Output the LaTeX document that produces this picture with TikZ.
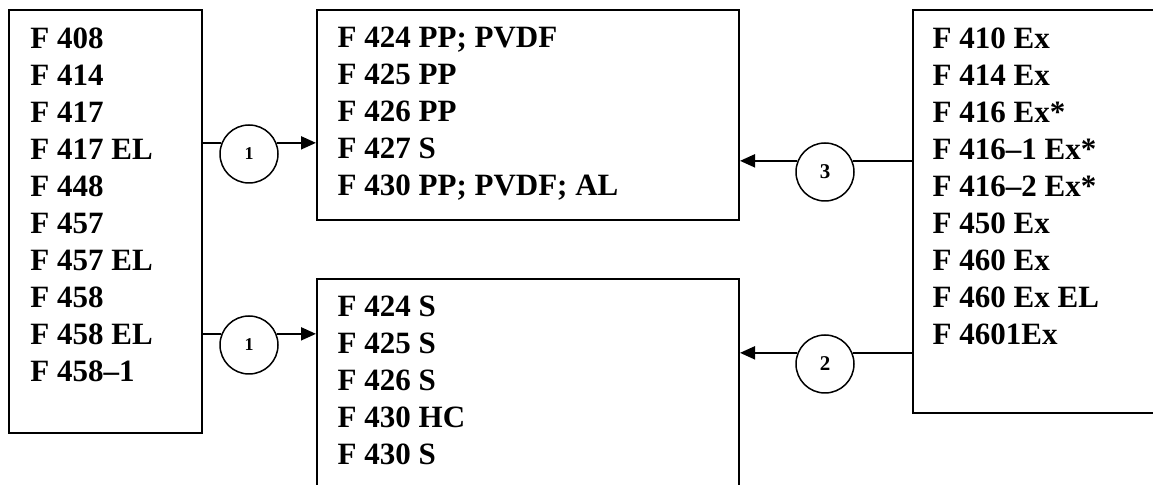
\documentclass[tikz,border=0pt]{standalone}
\usepackage{fontspec}
\setmainfont{Liberation Serif}
\usetikzlibrary{arrows.meta}

\begin{document}
\begin{tikzpicture}[x=0.5pt, y=-0.5pt,
  frame/.style={rectangle, draw, line width=1pt, inner sep=0pt, anchor=north west},
  list/.style={anchor=north west, inner sep=0pt, align=left,
               font=\fontsize{15.5}{18.5}\selectfont\bfseries},
  num/.style={circle, draw, line width=0.75pt, minimum size=29pt, inner sep=0pt,
              font=\fontsize{10.5}{12}\selectfont\bfseries},
  link/.style={line width=1pt},
  arr/.style={link, -{Triangle[length=7.5pt, width=6.5pt]}}
]
  \useasboundingbox (0,0) rectangle (1153,485);
  \clip (0,0) rectangle (1153,485);

  % frames
  \node[frame, minimum width=96.35pt, minimum height=211.35pt] (src) at (8.3,9) {};
  \node[frame, minimum width=211pt, minimum height=105pt] (up)  at (316,9) {};
  \node[frame, minimum width=211pt, minimum height=130pt] (low) at (316,278.3) {};
  \node[frame, minimum width=150pt, minimum height=201.5pt] (ext) at (911.7,9) {};

  % lists
  \node[list] (srclist) at (30,27)
    {F 408\\F 414\\F 417\\F 417 EL\\F 448\\F 457\\F 457 EL\\F 458\\F 458 EL\\F 458–1};
  \node[list] (uplist) at (337.3,27)
    {F 424 PP; PVDF\\F 425 PP\\F 426 PP\\F 427 S\\F 430 PP; PVDF; AL};
  \node[list] (lowlist) at (337.3,295.7)
    {F 424 S\\F 425 S\\F 426 S\\F 430 HC\\F 430 S};
  \node[list] (extlist) at (932.3,27)
    {F 410 Ex\\F 414 Ex\\F 416 Ex*\\F 416–1 Ex*\\F 416–2 Ex*\\F 450 Ex\\F 460 Ex\\F 460 Ex EL\\F 4601Ex};

  % numbered circles
  \node[num, font=\fontsize{9}{11}\selectfont\bfseries] (n1up)  at (249,154) {1};
  \node[num, font=\fontsize{9}{11}\selectfont\bfseries] (n1low) at (249,345) {1};
  \node[num] (n3) at (825,172) {3};
  \node[num] (n2) at (825,364) {2};

  % connectors
  \draw[link] (n1up.158 -| src.east) -- (n1up.158);
  \draw[arr] (n1up.22) -- (n1up.22 -| up.west);
  \draw[link] (n1low.158 -| src.east) -- (n1low.158);
  \draw[arr] (n1low.22) -- (n1low.22 -| low.west);
  \draw[link] (n3.22 -| ext.west) -- (n3.22);
  \draw[arr] (n3.158) -- (n3.158 -| up.east);
  \draw[link] (n2.22 -| ext.west) -- (n2.22);
  \draw[arr] (n2.158) -- (n2.158 -| low.east);
\end{tikzpicture}
\end{document}
